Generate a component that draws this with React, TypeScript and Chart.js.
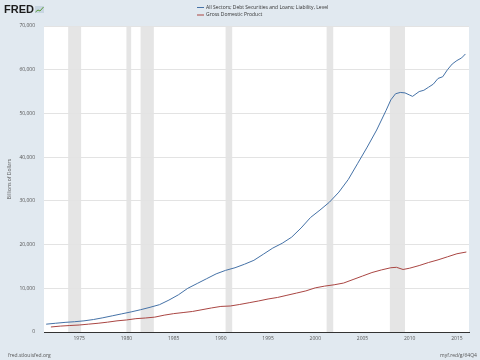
import React, { useEffect, useRef } from "react";
import { Chart, registerables } from "chart.js";

Chart.register(...registerables);

const debtYears = [1971.5, 1972.5, 1973.5, 1974.5, 1975.5, 1976.5, 1977.5, 1978.5, 1979.5, 1980.5, 1981.5, 1982.5, 1983.5, 1984.5, 1985.5, 1986.5, 1987.5, 1988.5, 1989.5, 1990.5, 1991.5, 1992.5, 1993.5, 1994.5, 1995.5, 1996.5, 1997.5, 1998.5, 1999.5, 2000.5, 2001.5, 2002.5, 2003.5, 2004.5, 2005.5, 2006.5, 2007.5, 2008.0, 2008.5, 2009.0, 2009.5, 2010.0, 2010.3, 2011.0, 2011.5, 2012.0, 2012.5, 2013.0, 2013.5, 2014.0, 2014.5, 2015.0, 2015.5, 2015.9];
const debtValues = [1790, 2000, 2200, 2350, 2550, 2850, 3250, 3700, 4150, 4600, 5100, 5650, 6250, 7300, 8500, 10000, 11100, 12200, 13300, 14100, 14700, 15500, 16400, 17800, 19200, 20300, 21700, 23800, 26200, 27900, 29700, 32000, 34900, 38600, 42300, 46200, 50700, 53100, 54500, 54800, 54700, 54200, 53900, 55000, 55300, 56000, 56700, 58000, 58400, 60000, 61300, 62100, 62700, 63600];

const gdpYears = [1972.0, 1973.0, 1974.0, 1975.0, 1976.0, 1977.0, 1978.0, 1979.0, 1980.0, 1981.0, 1982.0, 1983.0, 1984.0, 1985.0, 1986.0, 1987.0, 1988.0, 1989.0, 1990.0, 1991.0, 1992.0, 1993.0, 1994.0, 1995.0, 1996.0, 1997.0, 1998.0, 1999.0, 2000.0, 2001.0, 2002.0, 2003.0, 2004.0, 2005.0, 2006.0, 2007.0, 2008.0, 2008.6, 2009.3, 2010.0, 2011.0, 2012.0, 2013.0, 2014.0, 2015.0, 2016.0];
const gdpValues = [1150, 1350, 1480, 1600, 1800, 2000, 2250, 2550, 2750, 3050, 3200, 3400, 3850, 4200, 4450, 4700, 5100, 5500, 5850, 5950, 6300, 6700, 7100, 7550, 7900, 8400, 8900, 9400, 10100, 10500, 10800, 11200, 12000, 12800, 13600, 14200, 14700, 14800, 14300, 14600, 15200, 15900, 16500, 17200, 17900, 18300];

const recessionStarts = [1973.83, 1980.0, 1981.5, 1990.5, 2001.2, 2007.9];
const recessionEnds = [1975.2, 1980.5, 1982.9, 1991.2, 2001.9, 2009.5];

const xTickYears = [1975, 1980, 1985, 1990, 1995, 2000, 2005, 2010, 2015];
const yTickValues = [0, 10000, 20000, 30000, 40000, 50000, 60000, 70000];

const seriesNames = ["All Sectors; Debt Securities and Loans; Liability, Level", "Gross Domestic Product"];
const seriesColors = ["#4572a7", "#aa4643"];
const yAxisTitle = "Billions of Dollars";
const footerLeft = "fred.stlouisfed.org";
const footerRight = "myf.red/g/64Q4";

const FONT = "'Open Sans', 'Noto Sans', sans-serif";

export default function App() {
  const ref = useRef<HTMLCanvasElement | null>(null);

  useEffect(() => {
    document.body.style.margin = "0";
    const canvas = ref.current;
    if (!canvas) return;

    const decor = {
      id: "decor",
      beforeDraw(chart: any) {
        const { ctx, chartArea, scales } = chart;
        ctx.save();
        ctx.fillStyle = "#e1e9f0";
        ctx.fillRect(0, 0, chart.width, chart.height);
        ctx.fillStyle = "#ffffff";
        ctx.fillRect(chartArea.left, chartArea.top, chartArea.right - chartArea.left, chartArea.bottom - chartArea.top);
        ctx.fillStyle = "#e5e5e5";
        const xs = scales.x;
        for (let i = 0; i < recessionStarts.length; i++) {
          const a = xs.getPixelForValue(recessionStarts[i]);
          const b = xs.getPixelForValue(recessionEnds[i]);
          ctx.fillRect(a, chartArea.top, b - a, chartArea.bottom - chartArea.top);
        }
        ctx.restore();
      },
      afterDraw(chart: any) {
        const { ctx } = chart;
        ctx.save();
        // FRED logo
        ctx.fillStyle = "#1c1c1c";
        ctx.font = "bold 11px 'Liberation Sans', Arial, sans-serif";
        ctx.textBaseline = "alphabetic";
        ctx.textAlign = "left";
        ctx.fillText("FRED", 4, 13);
        ctx.fillStyle = "#c8d6e2";
        ctx.fillRect(35, 6, 9, 7);
        ctx.strokeStyle = "#5d9c3c";
        ctx.lineWidth = 1;
        ctx.beginPath();
        ctx.moveTo(35.5, 12);
        ctx.lineTo(38, 10);
        ctx.lineTo(40, 11);
        ctx.lineTo(43.5, 7);
        ctx.stroke();
        // legend
        ctx.font = `5px ${FONT}`;
        ctx.textBaseline = "middle";
        const ly = [7.5, 15];
        for (let i = 0; i < seriesNames.length; i++) {
          ctx.strokeStyle = seriesColors[i];
          ctx.lineWidth = 1;
          ctx.beginPath();
          ctx.moveTo(197, ly[i]);
          ctx.lineTo(204, ly[i]);
          ctx.stroke();
          ctx.fillStyle = "#333333";
          ctx.fillText(seriesNames[i], 206, ly[i]);
        }
        // y title
        ctx.save();
        ctx.translate(10, 179);
        ctx.rotate(-Math.PI / 2);
        ctx.textAlign = "center";
        ctx.fillStyle = "#555555";
        ctx.font = `5px ${FONT}`;
        ctx.fillText(yAxisTitle, 0, 0);
        ctx.restore();
        // footer
        ctx.fillStyle = "#555555";
        ctx.font = `5px ${FONT}`;
        ctx.textAlign = "left";
        ctx.fillText(footerLeft, 8, 356);
        ctx.fillText(footerRight, 440, 356);
        ctx.restore();
      },
    };

    const chart = new Chart(canvas, {
      type: "line",
      data: {
        datasets: [
          {
            label: seriesNames[0],
            data: debtYears.map((x, i) => ({ x, y: debtValues[i] })),
            borderColor: seriesColors[0],
            borderWidth: 1,
            pointRadius: 0,
            tension: 0,
            fill: false,
          },
          {
            label: seriesNames[1],
            data: gdpYears.map((x, i) => ({ x, y: gdpValues[i] })),
            borderColor: seriesColors[1],
            borderWidth: 1,
            pointRadius: 0,
            tension: 0,
            fill: false,
          },
        ],
      },
      options: {
        responsive: false,
        animation: false,
        devicePixelRatio: 1,
        layout: { padding: { top: 26, right: 11, left: 0, bottom: 0 } },
        plugins: { legend: { display: false }, tooltip: { enabled: false }, title: { display: false } },
        scales: {
          x: {
            type: "linear",
            min: 1971.27,
            max: 2016.28,
            afterFit(scale: any) {
              scale.height = 28;
            },
            afterBuildTicks(scale: any) {
              scale.ticks = xTickYears.map((v) => ({ value: v }));
            },
            grid: { display: false, drawTicks: false },
            border: { display: true, color: "#333333", width: 1 },
            ticks: {
              padding: 4,
              color: "#555555",
              font: { size: 5, family: FONT },
              maxRotation: 0,
              autoSkip: false,
              callback: (v: any) => String(v),
            },
          },
          y: {
            type: "linear",
            min: 0,
            max: 70000,
            afterFit(scale: any) {
              scale.width = 44;
            },
            afterBuildTicks(scale: any) {
              scale.ticks = yTickValues.map((v) => ({ value: v }));
            },
            grid: { color: "#e3e3e3", lineWidth: 1, drawTicks: false },
            border: { display: false },
            ticks: {
              padding: 9,
              color: "#555555",
              font: { size: 5, family: FONT },
              callback: (v: any) => Number(v).toLocaleString("en-US"),
            },
          },
        },
      },
      plugins: [decor],
    });

    return () => chart.destroy();
  }, []);

  return (
    <div style={{ position: "absolute", left: 0, top: 0, width: 480, height: 360 }}>
      <canvas ref={ref} width={480} height={360} style={{ display: "block", width: 480, height: 360 }} />
    </div>
  );
}
